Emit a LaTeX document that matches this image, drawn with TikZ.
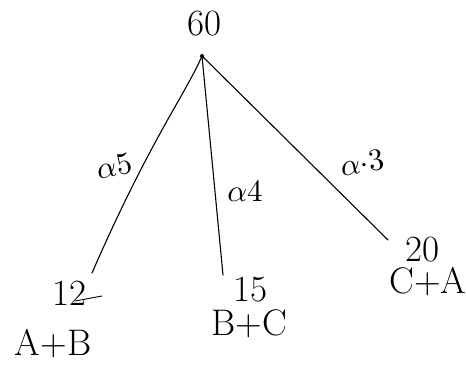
\documentclass[tikz,border=0pt]{standalone}
\begin{document}
\begin{tikzpicture}[x=1pt,y=-1pt,
  edge/.style={line width=1.1pt, line cap=round},
  num/.style={inner sep=0pt, font=\fontsize{37}{37}\selectfont},
  lbl/.style={inner sep=0pt, scale=3.1}]
\useasboundingbox (0,0) rectangle (466,365);
% nodes
\node[num] (top) at (204,24) {60};
\coordinate (r) at (202,56);
\coordinate (e1) at (92,273);
\coordinate (e2) at (223,275);
\coordinate (e3) at (388,240);
\node[num] (n12) at (69,293) {12};
\node[num] (ab) at (53,344) {A+B};
\node[num] (n15) at (250,290) {15};
\node[num] (bc) at (249,324) {B+C};
\node[num] (n20) at (422,250) {20};
\node[num] (ca) at (428,282) {C+A};
% edges
\draw[edge] (r) .. controls (185,95) and (150,140) .. (e1);
\draw[edge] (r) -- (e2);
\draw[edge] (r) -- (e3);
\fill (r) circle (2pt);
\coordinate (u1) at (75,301);
\coordinate (u2) at (102,296);
\draw[edge, line width=0.9pt] (u1) -- (u2);
% labels
\node[lbl, rotate=12] (l5) at (114,166) {$\alpha 5$};
\node[lbl] (l4) at (245,192) {$\alpha 4$};
\node[lbl, rotate=10] (l3) at (362,163) {$\alpha{\cdot}3$};
\end{tikzpicture}
\end{document}
